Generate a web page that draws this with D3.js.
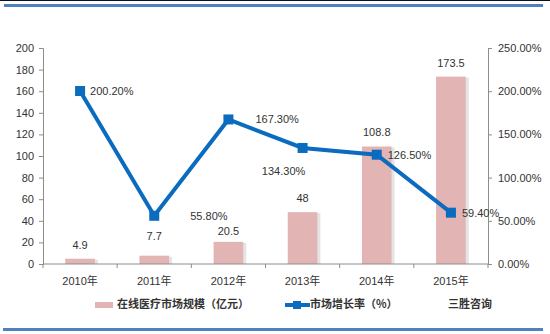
<!DOCTYPE html>
<html>
<head>
<meta charset="utf-8">
<script src="https://cdn.jsdelivr.net/npm/d3@7"></script>
<style>
  html, body { margin: 0; padding: 0; background: #fff; }
  svg { display: block; }
  text { font-family: "Liberation Sans", Arial, sans-serif; fill: #333; }
  .cjk { font-family: "Noto Sans CJK SC", sans-serif; }
</style>
</head>
<body>
<svg id="chart" width="550" height="334"></svg>
<script>
// Online healthcare market size and growth rate, 2010–2015
const years = ["2010年", "2011年", "2012年", "2013年", "2014年", "2015年"];
const marketSize = [4.9, 7.7, 20.5, 48, 108.8, 173.5];          // 亿元
const growthRate = [200.2, 55.8, 167.3, 134.3, 126.5, 59.4];     // %
const leftTicks = [0, 20, 40, 60, 80, 100, 120, 140, 160, 180, 200];
const rightTicks = [0, 50, 100, 150, 200, 250];
const legendLabels = ["在线医疗市场规模（亿元）", "市场增长率（%）", "三胜咨询"];

// label nudges (dx, dy in px) for the growth-rate labels, relative to each point
const rateLabelNudge = [[10, 1], [36, 1], [27, 1], [-19, 24], [11, 1], [11, 1]];
// extra lift for bar value labels
const sizeLabelLift = [0, 6, -3, 0, 0, 0];

const svg = d3.select("#chart");
const W = 550, H = 334;
const plot = { left: 43, right: 488, top: 48, bottom: 264 };

// frame lines
svg.append("line").attr("x1", 0).attr("x2", W).attr("y1", 0.5).attr("y2", 0.5)
  .attr("stroke", "#111").attr("stroke-width", 1);
svg.append("rect").attr("x", 4).attr("y", 4).attr("width", 539).attr("height", 3)
  .attr("fill", "#4f81c0");
svg.append("rect").attr("x", 3).attr("y", 328).attr("width", 540).attr("height", 3)
  .attr("fill", "#4f81c0");

// scales
const x = d3.scaleBand().domain(years).range([plot.left, plot.right])
  .paddingInner(0.6).paddingOuter(0.3);
const yL = d3.scaleLinear().domain([0, 200]).range([plot.bottom, plot.top]);
const yR = d3.scaleLinear().domain([0, 250]).range([plot.bottom, plot.top]);
const cx = d => x(d) + x.bandwidth() / 2;

const axisColor = "#8c8c8c";

// left axis
const gL = svg.append("g").attr("transform", `translate(${plot.left},0)`)
  .call(d3.axisLeft(yL).tickValues(leftTicks).tickSize(4).tickPadding(5).tickFormat(d3.format("d")));
// right axis
const gR = svg.append("g").attr("transform", `translate(${plot.right},0)`)
  .call(d3.axisRight(yR).tickValues(rightTicks).tickSize(4).tickPadding(6)
    .tickFormat(d => d.toFixed(2) + "%"));
[gL, gR].forEach(g => {
  g.select(".domain").attr("stroke", axisColor);
  g.selectAll(".tick line").attr("stroke", axisColor);
  g.selectAll(".tick text").attr("font-size", 11).attr("fill", "#333")
    .attr("font-family", "Liberation Sans, Arial, sans-serif");
});

// bars with a soft shadow
const bars = svg.append("g");
bars.selectAll("rect.shadow").data(marketSize).join("rect").attr("class", "shadow")
  .attr("x", (d, i) => x(years[i]) + 3)
  .attr("y", d => yL(d) + 1)
  .attr("width", x.bandwidth())
  .attr("height", d => plot.bottom - yL(d) - 1)
  .attr("fill", "#e4e4e4");
bars.selectAll("rect.bar").data(marketSize).join("rect").attr("class", "bar")
  .attr("x", (d, i) => x(years[i]))
  .attr("y", d => yL(d))
  .attr("width", x.bandwidth())
  .attr("height", d => plot.bottom - yL(d))
  .attr("fill", "#e2b5b4");

// x axis with category boundary ticks
const gX = svg.append("g").attr("transform", `translate(0,${plot.bottom})`);
gX.append("line").attr("x1", plot.left).attr("x2", plot.right)
  .attr("stroke", axisColor);
const bounds = years.map(d => x(d) - x.step() * x.paddingInner() / 2).concat([plot.right]);
gX.selectAll("line.b").data(bounds).join("line").attr("class", "b")
  .attr("x1", d => d).attr("x2", d => d).attr("y1", 0).attr("y2", 4)
  .attr("stroke", axisColor);
gX.selectAll("text").data(years).join("text")
  .attr("x", d => cx(d)).attr("y", 18)
  .attr("dominant-baseline", "middle").attr("text-anchor", "middle")
  .attr("font-size", 11)
  .each(function (d) {
    const t = d3.select(this);
    t.append("tspan").text(d.slice(0, 4));
    t.append("tspan").attr("class", "cjk").attr("font-size", 11).text(d.slice(4));
  });

// bar value labels
svg.append("g").selectAll("text").data(marketSize).join("text")
  .attr("x", (d, i) => cx(years[i]))
  .attr("y", (d, i) => yL(d) - 13 - sizeLabelLift[i])
  .attr("text-anchor", "middle").attr("dominant-baseline", "middle")
  .attr("font-size", 11).text(d => d);

// growth-rate line
const line = d3.line().x((d, i) => cx(years[i])).y(d => yR(d));
svg.append("path").datum(growthRate).attr("d", line)
  .attr("fill", "none").attr("stroke", "#0a6bbf").attr("stroke-width", 4)
  .attr("stroke-linejoin", "miter");
svg.append("g").selectAll("rect").data(growthRate).join("rect")
  .attr("x", (d, i) => cx(years[i]) - 5)
  .attr("y", d => yR(d) - 5)
  .attr("width", 10).attr("height", 10)
  .attr("fill", "#0a6bbf");
svg.append("g").selectAll("text").data(growthRate).join("text")
  .attr("x", (d, i) => cx(years[i]) + rateLabelNudge[i][0])
  .attr("y", (d, i) => yR(d) + rateLabelNudge[i][1])
  .attr("text-anchor", (d, i) => i === 3 ? "middle" : "start")
  .attr("dominant-baseline", "middle")
  .attr("font-size", 11).text(d => d.toFixed(2) + "%");

// legend
const lg = svg.append("g").attr("transform", "translate(0,305)");
lg.append("rect").attr("x", 95).attr("y", -3).attr("width", 18).attr("height", 6)
  .attr("fill", "#e2b5b4");
lg.append("text").attr("class", "cjk").attr("x", 117).attr("y", 0)
  .attr("dominant-baseline", "middle").attr("font-size", 11).attr("font-weight", "bold")
  .text(legendLabels[0]);
lg.append("line").attr("x1", 285).attr("x2", 310).attr("y1", 0).attr("y2", 0)
  .attr("stroke", "#0a6bbf").attr("stroke-width", 4);
lg.append("rect").attr("x", 293).attr("y", -4).attr("width", 8).attr("height", 8)
  .attr("fill", "#0a6bbf");
lg.append("text").attr("class", "cjk").attr("x", 310).attr("y", 0)
  .attr("dominant-baseline", "middle").attr("font-size", 11).attr("font-weight", "bold")
  .text(legendLabels[1]);
lg.append("text").attr("class", "cjk").attr("x", 448).attr("y", 0)
  .attr("dominant-baseline", "middle").attr("font-size", 11).attr("font-weight", "bold")
  .text(legendLabels[2]);
</script>
</body>
</html>
